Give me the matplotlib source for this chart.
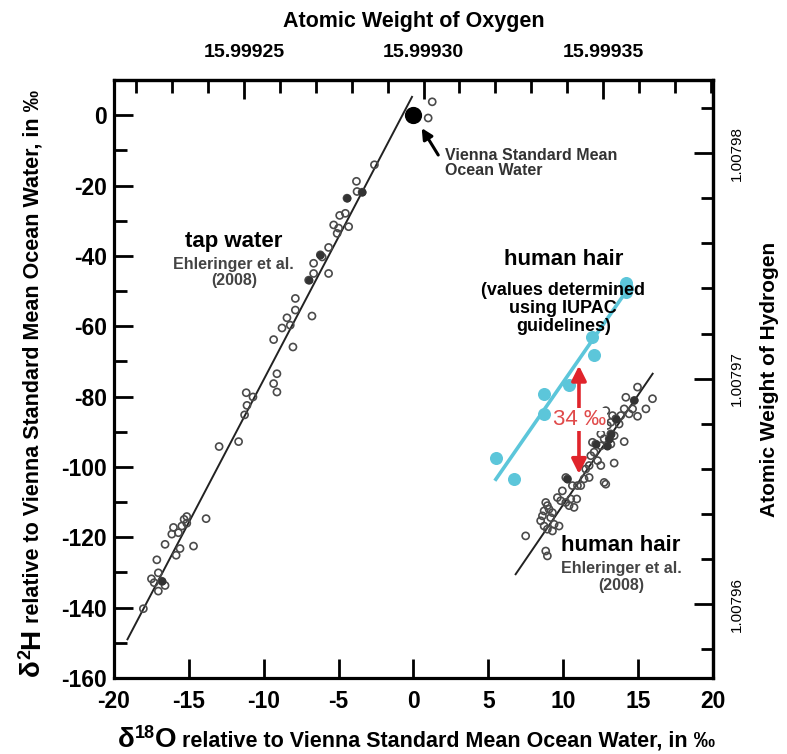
import numpy as np
import matplotlib.pyplot as plt
from matplotlib.ticker import FixedLocator, MultipleLocator, FormatStrFormatter

# tap water (Ehleringer et al. 2008), delta values in permil
tap_d18o = [1.25, 0.98, -2.61, -3.81, -3.77, -3.43, -4.44, -4.55, -4.93, -4.33,
            -5.33, -5.0, -5.1, -5.67, -6.22, -6.1, -6.67, -5.67, -6.67, -7.0,
            -7.89, -7.89, -6.78, -8.45, -8.78, -8.23, -9.34, -8.05, -9.12, -9.34,
            -9.12, -11.17, -10.72, -11.12, -11.28, -11.68, -12.98, -13.85, -14.69, -15.14,
            -15.32, -15.14, -15.47, -16.03, -15.70, -16.14, -16.59, -15.59, -15.85, -17.14,
            -17.04, -17.32, -17.04, -16.59, -16.8, -17.5, -18.04]
tap_d2h = [3.8, -0.8, -14.1, -18.8, -21.7, -21.9, -23.6, -27.9, -28.5, -31.7,
           -31.2, -32.1, -33.6, -37.6, -39.7, -40.3, -42.1, -45.0, -45.0, -46.9,
           -52.1, -55.4, -57.1, -57.6, -60.5, -59.7, -63.8, -65.9, -73.5, -76.3,
           -78.7, -78.9, -80.1, -82.5, -85.2, -92.8, -94.2, -114.7, -122.5, -114.1,
           -114.9, -116.0, -116.8, -117.2, -118.7, -119.1, -122.0, -123.2, -125.1, -126.4,
           -130.1, -132.9, -135.3, -133.7, -132.5, -131.8, -140.3]
tap_dark_d18o = [-4.44, -3.43, -6.22, -7.0, -16.8]
tap_dark_d2h = [-23.6, -21.9, -39.7, -46.9, -132.5]

# human hair (Ehleringer et al. 2008)
hair_d18o = [14.96, 14.18, 14.74, 15.96, 15.52, 14.96, 14.40, 12.84, 13.29, 13.51,
             13.18, 12.95, 13.73, 12.51, 13.18, 12.73, 13.07, 13.40, 14.07, 11.95,
             12.17, 12.51, 12.95, 13.18, 12.29, 12.51, 13.40, 11.73, 11.50, 11.39,
             12.73, 12.84, 10.28, 10.17, 10.61, 10.95, 11.17, 11.73, 10.90, 10.50,
             10.17, 9.83, 10.39, 10.72, 8.83, 8.94, 8.72, 9.05, 9.28, 8.61,
             9.16, 8.49, 8.72, 9.39, 9.72, 8.94, 9.28, 7.49, 8.83, 8.94,
             14.07, 13.84, 14.63, 12.06, 11.84, 9.94, 9.61]
hair_d2h = [-77.3, -80.2, -81.1, -80.6, -83.5, -85.6, -84.9, -84.0, -85.4, -86.3,
            -87.3, -88.2, -87.8, -90.6, -90.6, -92.0, -92.0, -91.1, -92.8, -93.0,
            -93.5, -94.0, -94.0, -93.5, -98.2, -99.6, -98.9, -99.6, -100.6, -103.4,
            -104.4, -104.9, -103.4, -103.0, -105.3, -105.3, -105.3, -103.0, -109.1, -109.1,
            -110.1, -109.6, -111.0, -111.5, -110.1, -111.0, -112.5, -112.0, -113.0, -113.9,
            -114.4, -115.3, -116.8, -116.3, -116.8, -117.7, -118.2, -119.6, -123.9, -125.3,
            -83.5, -85.4, -83.5, -95.8, -96.8, -106.8, -108.7]
hair_dark_d18o = [14.74, 13.51, 13.18, 12.17, 13.07, 10.28, 12.95]
hair_dark_d2h = [-81.1, -86.3, -90.6, -93.5, -92.0, -103.4, -94.0]

# human hair, IUPAC guidelines
iupac_d18o = [5.5, 6.71, 8.72, 8.72, 10.39, 11.95, 12.06, 14.18, 14.25, 14.18]
iupac_d2h = [-97.5, -103.4, -79.2, -84.9, -76.8, -63.0, -68.3, -47.8, -49.1, -50.2]

# regression line end points
tap_fit_x = [-19.1, -0.1]
tap_fit_y = [-149.0, 5.2]
hair_fit_x = [6.82, 15.97]
hair_fit_y = [-130.5, -73.5]
iupac_fit_x = [5.5, 14.3]
iupac_fit_y = [-103.5, -49.5]

# atomic weight scales (top and right)
o_ticks = [15.99925, 15.99930, 15.99935]
o_at_zero = 15.99930 - 0.669 * 0.00005 / 12.0
o_slope = 0.00005 / 12.0
h_ticks = [1.00796, 1.00797, 1.00798]
h_ref_delta = -10.8
h_slope = 0.00002 / 128.2

W, H = 787, 754
CYAN = "#5cc6da"
RED = "#e0242b"
ARIAL = ["Liberation Sans", "DejaVu Sans"]

plt.rcParams["font.family"] = ARIAL
plt.rcParams["axes.unicode_minus"] = False

fig = plt.figure(figsize=(W / 100, H / 100), dpi=100)
ax = fig.add_axes([114 / W, 1 - 678 / H, (713 - 114) / W, (678 - 80) / H])

ax.plot(tap_fit_x, tap_fit_y, color="#222222", lw=1.4, zorder=2)
ax.plot(hair_fit_x, hair_fit_y, color="#222222", lw=1.4, zorder=2)
ax.plot(iupac_fit_x, iupac_fit_y, color=CYAN, lw=2.6, zorder=2)

ax.scatter(tap_d18o, tap_d2h, s=26, facecolors="none", edgecolors="#4a4a4a", linewidths=1.2, zorder=3)
ax.scatter(tap_dark_d18o, tap_dark_d2h, s=22, color="#333333", zorder=3)
ax.scatter(hair_d18o, hair_d2h, s=26, facecolors="none", edgecolors="#4a4a4a", linewidths=1.2, zorder=3)
ax.scatter(hair_dark_d18o, hair_dark_d2h, s=22, color="#333333", zorder=3)
ax.scatter(iupac_d18o, iupac_d2h, s=70, color=CYAN, zorder=3)
ax.scatter([0], [0], s=130, color="black", zorder=4)

# VSMOW label
ax.annotate("", xy=(0.45, -3.0), xytext=(1.75, -12.0),
            arrowprops=dict(arrowstyle="-|>", color="black", lw=2.2, mutation_scale=16))
ax.text(2.1, -13.6, "Vienna Standard Mean\nOcean Water", fontsize=11.5, fontweight="bold",
        color="#333333", ha="left", va="center", linespacing=1.05)

# group labels
ax.text(-12.0, -35.9, "tap water", fontsize=16, fontweight="bold", ha="center", va="center")
ax.text(-12.0, -44.8, "Ehleringer et al.\n(2008)", fontsize=11.5, fontweight="bold",
        color="#444444", ha="center", va="center", linespacing=1.1)

ax.text(10.0, -41.1, "human hair", fontsize=16, fontweight="bold", ha="center", va="center")
ax.text(10.0, -55.0, "(values determined\nusing IUPAC\nguidelines)", fontsize=13,
        fontweight="bold", ha="center", va="center", linespacing=1.05)

ax.text(13.85, -122.4, "human hair", fontsize=16, fontweight="bold", ha="center", va="center")
ax.text(13.85, -131.3, "Ehleringer et al.\n(2008)", fontsize=11.5, fontweight="bold",
        color="#444444", ha="center", va="center", linespacing=1.1)

# 34 permil offset
ax.annotate("", xy=(11.05, -71.2), xytext=(11.05, -102.0),
            arrowprops=dict(arrowstyle="<|-|>", color=RED, lw=2.6, mutation_scale=22,
                            shrinkA=0, shrinkB=0))
ax.text(11.1, -86.5, "34 ‰", fontsize=16, color="#e04a4a", ha="center", va="center",
        bbox=dict(boxstyle="square,pad=0.05", fc="white", ec="none"), zorder=5)

ax.set_xlim(-20, 20)
ax.set_ylim(-160, 10)
ax.xaxis.set_major_locator(MultipleLocator(5))
ax.yaxis.set_major_locator(MultipleLocator(20))
ax.yaxis.set_minor_locator(MultipleLocator(10))
ax.tick_params(which="both", direction="in", width=2.0, top=False, right=False)
ax.tick_params(which="major", length=14)
ax.tick_params(which="minor", length=9)
ax.tick_params(axis="y", labelsize=16.5, pad=5)
ax.tick_params(axis="x", labelsize=16.5, pad=9)
for lab in ax.get_xticklabels() + ax.get_yticklabels():
    lab.set_fontweight("bold")
for sp in ax.spines.values():
    sp.set_linewidth(2.3)

# top axis: atomic weight of oxygen
top = ax.secondary_xaxis("top", functions=(lambda d: o_at_zero + o_slope * d,
                                           lambda a: (a - o_at_zero) / o_slope))
top.xaxis.set_major_locator(FixedLocator(o_ticks))
top.xaxis.set_minor_locator(FixedLocator(np.arange(15.99921, 15.99939, 0.00001)))
top.xaxis.set_major_formatter(FormatStrFormatter("%.5f"))
top.tick_params(which="both", direction="in", width=2.0, labelsize=14, pad=14)
top.tick_params(which="major", length=14)
top.tick_params(which="minor", length=9)
for lab in top.get_xticklabels():
    lab.set_fontweight("bold")
top.spines["top"].set_linewidth(2.3)
top.set_xlabel("Atomic Weight of Oxygen", fontsize=15.5, fontweight="bold", labelpad=12)

# right axis: atomic weight of hydrogen
right = ax.secondary_yaxis("right", functions=(lambda d: h_ticks[2] + (d - h_ref_delta) * h_slope,
                                               lambda a: (a - h_ticks[2]) / h_slope + h_ref_delta))
right.yaxis.set_major_locator(FixedLocator(h_ticks))
right.yaxis.set_minor_locator(FixedLocator(np.arange(1.007954, 1.007990, 0.000002)))
right.yaxis.set_major_formatter(FormatStrFormatter("%.5f"))
right.tick_params(which="both", direction="in", width=2.0, labelsize=11, pad=12)
right.tick_params(which="major", length=14)
right.tick_params(which="minor", length=9)
for lab in right.get_yticklabels():
    lab.set_rotation(90)
    lab.set_va("center")
right.spines["right"].set_linewidth(2.3)
right.set_ylabel("Atomic Weight of Hydrogen", fontsize=15, fontweight="bold", labelpad=12)


def text_run(pieces, x0, y0, rotation=0):
    # pieces: (text, fontsize, rise in px); placed one after another in pixels
    renderer = fig.canvas.get_renderer()
    pos = 0
    for s, size, rise in pieces:
        if rotation == 0:
            x, y = x0 + pos, y0 + rise
        else:
            x, y = x0 - rise, y0 + pos
        t = fig.text(x / W, y / H, s, fontsize=size, fontweight="bold",
                     rotation=rotation, rotation_mode="anchor", ha="left", va="baseline")
        bb = t.get_window_extent(renderer)
        pos += bb.width if rotation == 0 else bb.height


xlabel_parts = [("δ", 20, 0), ("18", 13, 9), ("O", 20, 0),
                (" relative to Vienna Standard Mean Ocean Water, in ‰", 15.5, 0)]
ylabel_parts = [("δ", 20, 0), ("2", 13, 9), ("H", 20, 0),
                (" relative to Vienna Standard Mean Ocean Water, in ‰", 15.5, 0)]
text_run(xlabel_parts, 118, H - 747)
text_run(ylabel_parts, 39, H - 676, rotation=90)

fig.savefig("out.png", dpi=100)
